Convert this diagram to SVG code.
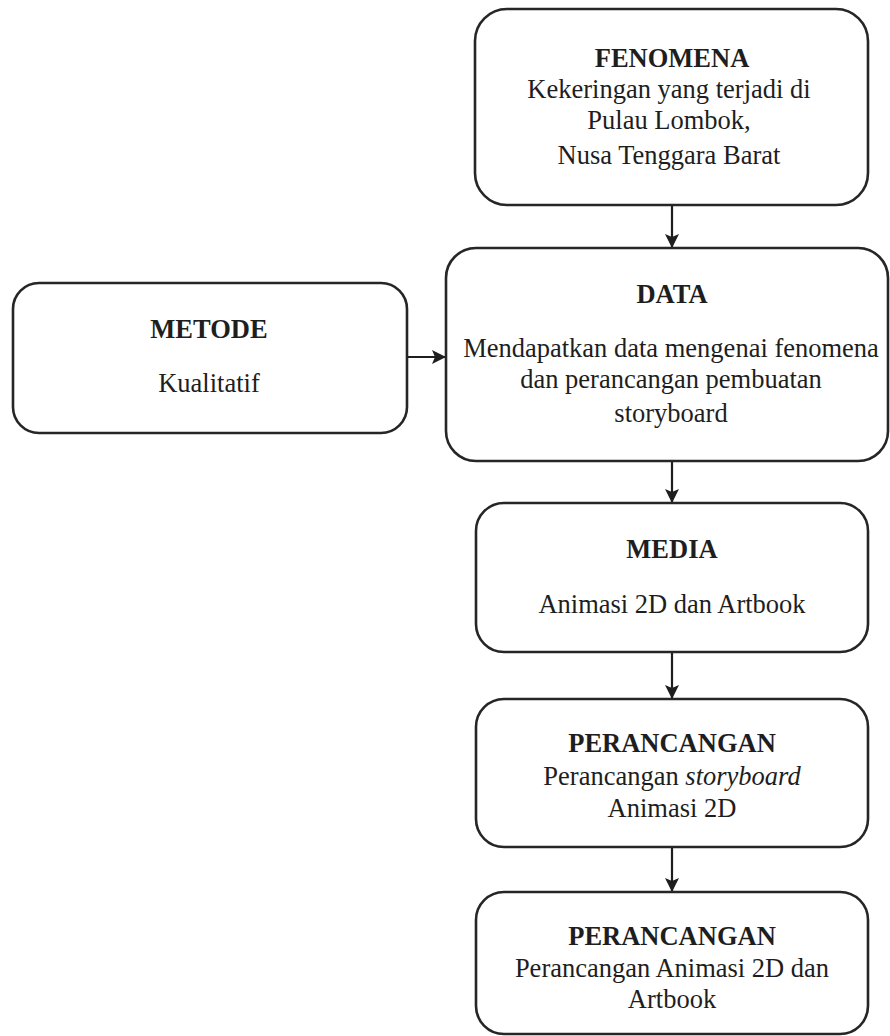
<svg xmlns="http://www.w3.org/2000/svg" width="890" height="1036" viewBox="0 0 890 1036">
<defs>
<marker id="ah" viewBox="0 0 14 14" refX="14" refY="7" markerWidth="14" markerHeight="14" markerUnits="userSpaceOnUse" orient="auto">
<path d="M0,0 L14,7 L0,14 L3,7 Z" fill="#1e1e1e"/>
</marker>
<style>
.box{fill:#ffffff;stroke:#262626;stroke-width:2.6}
.t{font-family:"Liberation Serif","Times New Roman",serif;font-size:26.5px;fill:#1e1e1e;text-anchor:middle}
.b{font-weight:bold}
.c{stroke:#1e1e1e;stroke-width:2.2;fill:none;marker-end:url(#ah)}
</style>
</defs>
<rect width="890" height="1036" fill="#ffffff"/>
<g id="connectors">
<line class="c" x1="672" y1="206" x2="672" y2="248"/>
<line class="c" x1="407" y1="357" x2="446" y2="357"/>
<line class="c" x1="672" y1="462" x2="672" y2="503"/>
<line class="c" x1="672" y1="653" x2="672" y2="699"/>
<line class="c" x1="672" y1="848" x2="672" y2="892"/>
</g>
<g id="fenomena">
<rect class="box" x="475" y="9" width="393" height="196" rx="32"/>
<text class="t b" x="672" y="67">FENOMENA</text>
<text class="t" x="669" y="98">Kekeringan yang terjadi di</text>
<text class="t" x="669" y="129">Pulau Lombok,</text>
<text class="t" x="669" y="164">Nusa Tenggara Barat</text>
</g>
<g id="metode">
<rect class="box" x="13" y="283" width="394" height="150" rx="26"/>
<text class="t b" x="209" y="338">METODE</text>
<text class="t" x="209" y="392">Kualitatif</text>
</g>
<g id="data">
<rect class="box" x="446" y="248" width="442" height="213" rx="30"/>
<text class="t b" x="672" y="303">DATA</text>
<text class="t" x="671" y="357">Mendapatkan data mengenai fenomena</text>
<text class="t" x="671" y="388">dan perancangan pembuatan</text>
<text class="t" x="671" y="422">storyboard</text>
</g>
<g id="media">
<rect class="box" x="476" y="503" width="392" height="149" rx="28"/>
<text class="t b" x="672" y="558">MEDIA</text>
<text class="t" x="672" y="613">Animasi 2D dan Artbook</text>
</g>
<g id="perancangan1">
<rect class="box" x="476" y="699" width="392" height="148" rx="28"/>
<text class="t b" x="672" y="752">PERANCANGAN</text>
<text class="t" x="672" y="785">Perancangan <tspan font-style="italic">storyboard</tspan></text>
<text class="t" x="672" y="817">Animasi 2D</text>
</g>
<g id="perancangan2">
<rect class="box" x="476" y="892" width="392" height="142" rx="28"/>
<text class="t b" x="672" y="945">PERANCANGAN</text>
<text class="t" x="672" y="977">Perancangan Animasi 2D dan</text>
<text class="t" x="672" y="1008">Artbook</text>
</g>
</svg>
